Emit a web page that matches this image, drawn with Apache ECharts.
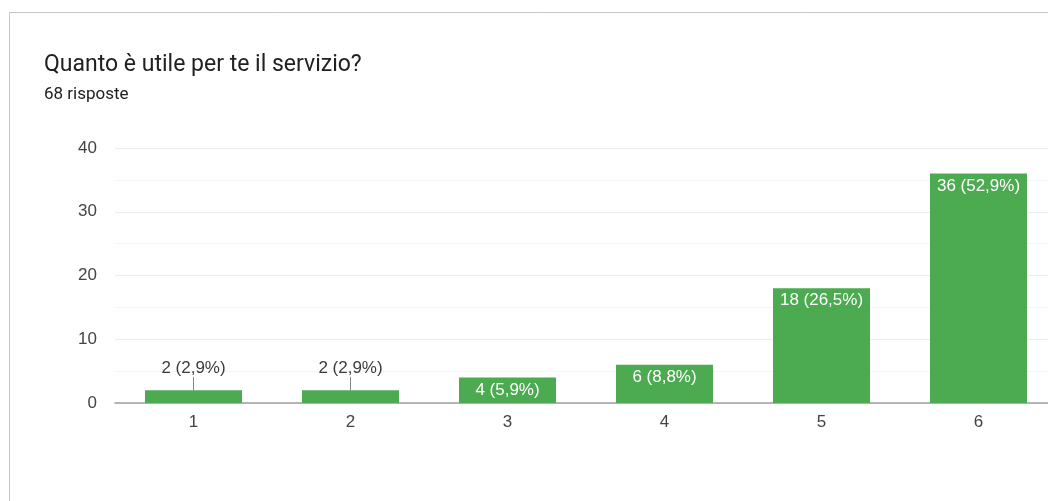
<!DOCTYPE html>
<html>
<head>
<meta charset="utf-8">
<style>
  html, body { margin: 0; padding: 0; background: #fff; overflow: hidden; }
  #chart { width: 1070px; height: 501px; }
</style>
<script src="https://cdn.jsdelivr.net/npm/echarts@6/dist/echarts.min.js"></script>
</head>
<body>
<div id="chart"></div>
<script>
const titleText = "Quanto è utile per te il servizio?";
const subText = "68 risposte";
const categories = ["1", "2", "3", "4", "5", "6"];
const values = [2, 2, 4, 6, 18, 36];
const totalAnswers = 68;
const yTicks = { min: 0, max: 40, interval: 10 };
// bars too short to hold their label get it above, with a small leader line
const outsideLabel = [true, true, false, false, false, false];

const pct = (v) => (v / totalAnswers * 100).toFixed(1).replace(".", ",");
const labelText = (v) => v + " (" + pct(v) + "%)";

// the card is wider than the window, so the last column gets cut at the edge
const chart = echarts.init(document.getElementById("chart"), null, { renderer: "canvas" });

const barData = values.map((v, i) => {
  if (outsideLabel[i]) {
    return {
      value: v,
      label: { show: true, position: "top", distance: 13, color: "#3c3c3c" },
    };
  }
  return {
    value: v,
    label: { show: true, position: "insideTop", distance: 4, color: "#fff" },
  };
});

const leaderLines = [];
values.forEach((v, i) => {
  if (outsideLabel[i]) {
    leaderLines.push([
      { coord: [categories[i], v] },
      { coord: [categories[i], v + 2.1] },
    ]);
  }
});

const option = {
  animation: false,
  textStyle: { fontFamily: "Liberation Sans, Arial, sans-serif" },
  graphic: [
    {
      type: "rect",
      shape: { x: 9.5, y: 12.5, width: 1200, height: 600 },
      style: { fill: "none", stroke: "#c6c6c6", lineWidth: 1 },
      silent: true,
    },
  ],
  title: {
    text: titleText,
    subtext: subText,
    left: 39,
    top: 49,
    itemGap: 9,
    textStyle: {
      fontFamily: "Roboto, sans-serif",
      fontSize: 23,
      fontWeight: "normal",
      color: "#202124",
    },
    subtextStyle: {
      fontFamily: "Roboto, sans-serif",
      fontSize: 17,
      color: "#202124",
    },
  },
  grid: {
    left: 115,
    top: 148,
    width: 942,
    height: 255,
    containLabel: false,
  },
  xAxis: {
    type: "category",
    data: categories,
    axisLine: { lineStyle: { color: "#9e9e9e", width: 1.5 } },
    axisTick: { show: false },
    axisLabel: { color: "#444", fontSize: 17, margin: 11 },
  },
  yAxis: {
    type: "value",
    min: yTicks.min,
    max: yTicks.max,
    interval: yTicks.interval,
    axisLine: { show: false },
    axisTick: { show: false },
    axisLabel: { color: "#444", fontSize: 17, margin: 18 },
    splitLine: { lineStyle: { color: "#ebebeb", width: 1 } },
    minorTick: { show: false, splitNumber: 2 },
    minorSplitLine: { show: true, lineStyle: { color: "#f5f5f5", width: 1 } },
  },
  series: [
    {
      type: "bar",
      data: barData,
      barWidth: 97,
      itemStyle: { color: "#4caa50" },
      label: {
        fontSize: 17,
        formatter: (p) => labelText(p.value),
      },
      markLine: {
        silent: true,
        symbol: "none",
        label: { show: false },
        lineStyle: { color: "#888", width: 1, type: "solid" },
        data: leaderLines,
      },
    },
  ],
};

chart.setOption(option);
</script>
</body>
</html>
